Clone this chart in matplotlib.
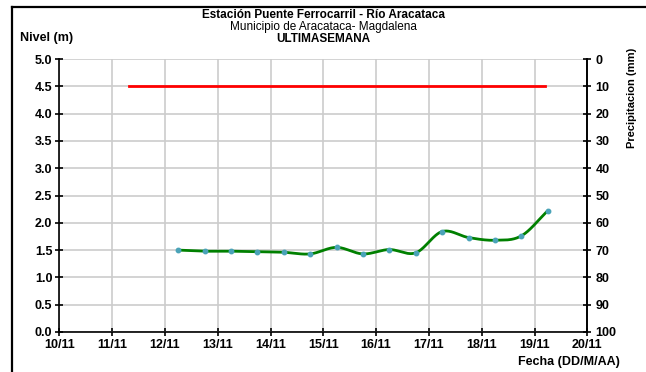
import numpy as np
import matplotlib
matplotlib.use("Agg")
import matplotlib.pyplot as plt
from matplotlib.lines import Line2D

plt.rcParams['font.family'] = ['Liberation Sans', 'DejaVu Sans']

# Data
tick_labels = ["10/11", "11/11", "12/11", "13/11", "14/11", "15/11",
               "16/11", "17/11", "18/11", "19/11", "20/11"]
# level time points in days after 10/11 00:00
level_days = [2.25, 2.75, 3.25, 3.75, 4.25, 4.75, 5.25, 5.75, 6.25, 6.75,
              7.25, 7.75, 8.25, 8.75, 9.25]
level_vals = [1.50, 1.48, 1.48, 1.47, 1.46, 1.43, 1.55, 1.43, 1.51, 1.45,
              1.84, 1.73, 1.68, 1.76, 2.22]
precip_days = [1.32, 9.19]
precip_vals = [10, 10]


def catmull_rom(x, y, n=30):
    x = np.asarray(x, float); y = np.asarray(y, float)
    px = np.concatenate([[2 * x[0] - x[1]], x, [2 * x[-1] - x[-2]]])
    py = np.concatenate([[2 * y[0] - y[1]], y, [2 * y[-1] - y[-2]]])
    xs, ys = [], []
    t = np.linspace(0, 1, n)
    for i in range(1, len(px) - 2):
        p0, p1, p2, p3 = [np.array([px[j], py[j]]) for j in range(i - 1, i + 3)]
        tt = t[:, None]
        pts = 0.5 * ((2 * p1) + (-p0 + p2) * tt + (2 * p0 - 5 * p1 + 4 * p2 - p3) * tt ** 2
                     + (-p0 + 3 * p1 - 3 * p2 + p3) * tt ** 3)
        xs.extend(pts[:, 0]); ys.extend(pts[:, 1])
    return np.array(xs), np.array(ys)


W, H = 646, 372
fig = plt.figure(figsize=(W / 100, H / 100), dpi=100)
ax = fig.add_axes([59.3 / W, 1 - 332 / H, (587.3 - 59.3) / W, (332 - 59) / H])

FS = 9
ax.set_xlim(0, 10)
ax.set_ylim(0, 5)
ax.set_xticks(range(len(tick_labels)))
ax.set_xticklabels(tick_labels, fontsize=FS, fontweight='bold')
ax.set_yticks(np.arange(0, 5.01, 0.5))
ax.set_yticklabels([f"{v:.1f}" for v in np.arange(0, 5.01, 0.5)], fontsize=FS, fontweight='bold')
ax.grid(True, color='#cccccc', linewidth=1.2)
ax.set_axisbelow(True)
ax.spines['top'].set_visible(False)
for s in ['left', 'bottom', 'right']:
    ax.spines[s].set_linewidth(1.2)
ax.tick_params(direction='inout', length=6, width=1.2, pad=2)

sx, sy = catmull_rom(level_days, level_vals)
ax.plot(sx, sy, color='#008000', linewidth=2, zorder=3)
ax.plot(level_days, level_vals, linestyle='none', marker='o', markersize=3.2,
        color='#4aa3b8', zorder=4)

ax2 = ax.twinx()
ax2.set_ylim(100, 0)
ax2.set_yticks(range(0, 101, 10))
ax2.set_yticklabels([str(v) for v in range(0, 101, 10)], fontsize=FS, fontweight='bold')
ax2.tick_params(direction='inout', length=6, width=1.2, pad=3)
for s in ax2.spines.values():
    s.set_visible(False)
ax2.spines['right'].set_visible(True)
ax2.spines['right'].set_linewidth(1.2)
ax2.plot(precip_days, precip_vals, color='#ff0000', linewidth=2)

cx = (59.3 + 587.3) / 2 / W
fig.text(cx, 1 - 15 / H, "Estación Puente Ferrocarril - Río Aracataca", ha='center', va='center',
         fontsize=8.5, fontweight='bold')
fig.text(cx, 1 - 27 / H, "Municipio de Aracataca- Magdalena", ha='center', va='center', fontsize=8.5)
fig.text(cx, 1 - 38.5 / H, "ULTIMASEMANA", ha='center', va='center', fontsize=8.5, fontweight='bold')
fig.text(20 / W, 1 - 38 / H, "Nivel (m)", ha='left', va='center', fontsize=9, fontweight='bold')
fig.text(632 / W, 1 - 98 / H, "Precipitacion (mm)", ha='center', va='center', rotation=90,
         fontsize=8, fontweight='bold')
fig.text(620 / W, 1 - 362 / H, "Fecha (DD/M/AA)", ha='right', va='center', fontsize=9,
         fontweight='bold')

# frame
fig.add_artist(Line2D([12 / W, 12 / W], [0, 1 - 6.5 / H], color='black', linewidth=1.6,
                      transform=fig.transFigure))
fig.add_artist(Line2D([12 / W, 1], [1 - 6.5 / H, 1 - 6.5 / H], color='black', linewidth=1.6,
                      transform=fig.transFigure))

fig.savefig("out.png", dpi=100)
